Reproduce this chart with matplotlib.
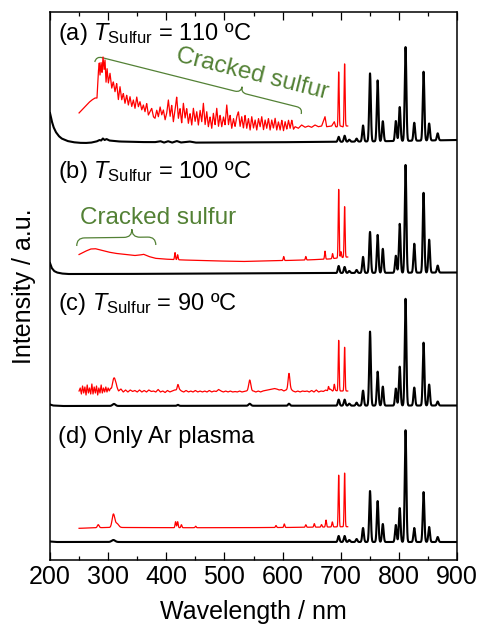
import numpy as np
import matplotlib
matplotlib.use('Agg')
import matplotlib.pyplot as plt
from matplotlib.path import Path
from matplotlib.patches import PathPatch
from matplotlib.ticker import MultipleLocator

plt.rcParams['font.family'] = ['Liberation Sans', 'DejaVu Sans']
plt.rcParams['mathtext.fontset'] = 'custom'
plt.rcParams['mathtext.rm'] = 'Liberation Sans'
plt.rcParams['mathtext.it'] = 'Liberation Sans:italic'

# Ar lines (nm) and their heights above the black baseline of each panel
ar_lines = [696.5, 706.7, 714.7, 727.3, 738.4, 750.4, 763.5, 772.4, 794.8,
            801.5, 811.5, 826.5, 842.5, 852.1, 866.8]
ar_a = [5, 6, 2, 3, 16, 68, 61, 20, 20, 34, 94, 18, 69, 17, 7]
ar_b = [7, 6, 2, 3, 16, 41, 38, 24, 17, 49, 108, 29, 80, 33, 7]
ar_c = [6, 6, 2, 3, 15, 74, 34, 19, 17, 39, 107, 18, 63, 21, 4]
ar_d = [6, 6, 2, 3, 14, 51, 41, 18, 17, 34, 112, 14, 50, 15, 5]

# black baselines (wavelength, level)
base_a = [(200, 30), (203, 22), (206, 16), (210, 11), (215, 7), (220, 4.5),
          (230, 2), (240, 0.8), (250, 0.2), (260, 0), (270, 0.3), (280, 1.5),
          (285, 3), (288, 2.5), (291, 4.5), (294, 3), (297, 4), (302, 2.5),
          (310, 2), (320, 1.5), (350, 1), (380, 0.8), (390, 1.8), (396, 0.4),
          (403, 1.8), (410, 0.4), (418, 2), (425, 0.5), (440, 1.5), (450, 0.4),
          (500, 0.5), (600, 0.8), (700, 1.2), (800, 2), (900, 3)]
base_b = [(200, 11), (203, 6), (207, 3), (212, 1.5), (220, 0.5), (230, 0),
          (300, 0), (500, 0.5), (700, 1), (900, 1.5)]
base_c = [(200, 1.5), (205, 0.5), (220, 0), (900, 0.5)]
base_d = [(200, 0.5), (210, 0), (900, 0)]
# small bumps on black curves (wavelength, height, width)
bumps_c = [(310, 2, 2.5), (420, 1, 1.5), (543.5, 2, 2), (611, 2, 1.5)]
bumps_d = [(309, 2, 3)]

# red spectra, levels read above each panel's black baseline
red_a = [(249.9, 30), (258, 35), (265.9, 40), (272, 43), (277.4, 45), (280.8, 45),
         (283.1, 71), (284.8, 80), (286.0, 68), (287.7, 81), (289.5, 70),
         (291.2, 86), (292.9, 73), (294.6, 83), (296.3, 60), (298.1, 75),
         (300.3, 59.7), (303.2, 69.7), (306.1, 54.7), (308.9, 61.3), (311.8, 51.3),
         (314.7, 59.7), (317.5, 43), (320.4, 56.3), (323.3, 43), (326.1, 49.7),
         (329.0, 39.7), (331.9, 48), (334.8, 38), (337.6, 46.3), (340.5, 36.3),
         (343.4, 43), (346.2, 34.7), (349.1, 46.3), (352.0, 36.3), (354.8, 41.3),
         (357.7, 33), (360.6, 38), (363.4, 31.3), (366.3, 39.7), (369.2, 28),
         (372.0, 31.3), (374.9, 34.7), (377.8, 26.3), (380.6, 24.7), (383.5, 33),
         (386.4, 26.3), (389.3, 36.3), (392.1, 28), (395.0, 33), (397.9, 23),
         (400.7, 29.7), (403.6, 43), (406.5, 26.3), (409.3, 38), (412.2, 21.3),
         (415.1, 33), (417.9, 46.3), (420.8, 24.7), (423.7, 34.7), (426.5, 19.7),
         (429.4, 39.7), (432.3, 24.7), (435.1, 34.7), (438.0, 19.7), (440.9, 29.7),
         (443.8, 18), (446.6, 34.7), (449.5, 21.3), (452.4, 31.3), (455.2, 18),
         (458.1, 33), (461.0, 21.3), (463.8, 39.7), (466.7, 18), (469.6, 31.3),
         (472.4, 16.3), (475.3, 26.3), (478.2, 14.7), (481.0, 29.7), (483.9, 18),
         (486.8, 34.7), (489.7, 16.3), (492.5, 28), (495.4, 16.3), (498.3, 26.3),
         (501.1, 18), (504.0, 38), (506.9, 18), (509.7, 28), (512.6, 14.7),
         (515.5, 24.7), (518.3, 16.3), (521.2, 26.3), (524.1, 31.3), (526.9, 16.3),
         (529.8, 26.3), (532.7, 14.7), (535.5, 28), (538.4, 14.7), (541.3, 24.7),
         (544.2, 13), (547.0, 26.3), (549.9, 14.7), (552.8, 23), (555.6, 13),
         (558.5, 24.7), (561.4, 16.3), (564.2, 26.3), (567.1, 13), (570.0, 23),
         (572.8, 14.7), (575.7, 24.7), (578.6, 13), (581.4, 23), (584.3, 14.7),
         (587.2, 24.7), (590.0, 13), (592.9, 21.3), (595.8, 13), (598.7, 23),
         (601.5, 12), (604.4, 21.3), (607.3, 13.7), (610.1, 23), (613.0, 14.7),
         (615.9, 23), (618.7, 13.7), (621.6, 16.3), (627.1, 14.7), (632.8, 18),
         (638.6, 15.7), (644.3, 17), (650.0, 15.7), (655.8, 18), (661.5, 16.3),
         (667.2, 17), (673.0, 26.3), (675.8, 16.3), (684.4, 17), (689.0, 21.3),
         (691.3, 16.3), (694, 16), (700, 17), (704, 16), (709, 17), (712, 17)]
red_a_lines = [(696.5, 55, 0.8), (706.7, 63, 0.8)]

red_b = [(250, 19.5), (260, 22.5), (270, 25), (278, 25.3), (290, 23.5), (300, 22),
         (312, 20.7), (330, 19.5), (346, 18.5), (355, 19), (361, 19.7), (370, 17.5),
         (381, 15.7), (395, 15), (410, 14.5), (430, 14), (470, 13.3), (530, 12.5),
         (590, 13.3), (640, 14), (680, 15), (695, 16), (712, 17)]
red_b_lines = [(415, 7, 0.8), (419.5, 5, 0.8), (602, 4, 0.8), (640, 3.5, 0.8),
               (673, 8, 0.8), (686, 5, 0.8), (696.5, 69, 0.8), (700.5, 6, 0.8),
               (706.7, 51, 0.8)]

red_c = [(250, 15), (252, 18), (254, 12), (256, 20), (258, 13), (260, 19), (262, 11),
         (264, 21), (266, 13), (268, 18), (270, 12), (272, 22), (274, 12), (276, 19),
         (278, 13), (280, 20), (282, 11), (284, 18), (286, 13), (288, 21), (290, 13),
         (292, 18), (294, 14), (296, 19), (298, 14), (300, 18), (302, 15), (304, 17),
         (306, 15), (310, 16), (314, 19), (318, 15), (322, 17), (326, 14), (330, 16),
         (334, 14), (338, 16), (342, 14.5), (346, 15.5), (350, 14), (354, 16),
         (358, 14), (362, 15.5), (366, 14), (370, 16), (374, 14.5), (378, 15),
         (382, 14), (386, 16.5), (390, 14), (394, 15), (398, 13.5), (402, 15.5),
         (406, 14), (410, 15), (414, 16), (418, 16), (422, 17), (426, 15), (430, 14),
         (434, 15.5), (438, 14), (442, 15), (446, 14), (450, 15.5), (454, 14),
         (458, 15), (462, 14), (466, 15), (470, 14), (474, 15.5), (478, 14),
         (482, 15), (486, 14.5), (490, 16.5), (494, 15), (498, 14), (502, 15),
         (506, 14), (510, 15), (514, 14), (518, 14.5), (522, 14), (526, 15),
         (530, 14), (534, 14.5), (538, 15), (550, 15), (554, 14), (558, 15),
         (562, 14), (566, 15), (570, 15.5), (574, 16), (578, 16.5), (582, 17),
         (586, 17.5), (590, 17), (594, 16), (598, 16.5), (602, 15), (606, 16),
         (614, 17), (618, 15), (622, 14), (626, 15), (630, 14), (634, 15),
         (638, 14.5), (642, 15), (646, 14), (650, 15.5), (654, 14), (658, 16),
         (662, 14), (666, 15), (670, 14.5), (674, 16), (678, 15), (682, 17),
         (686, 15), (690, 16), (694, 15), (702, 15), (710, 15)]
red_c_lines = [(310, 12, 2.5), (420, 5, 1.2), (543.5, 11, 1.8), (611, 16, 1.5),
               (679, 4, 0.8), (689, 6, 0.8), (696.5, 51, 0.8), (706.7, 44, 0.8)]

red_d = [(251, 13.7), (280, 14.3), (300, 14.5), (350, 14.5), (400, 14.3),
         (500, 14.3), (600, 14.5), (680, 15), (710, 15.3)]
red_d_lines = [(283, 3, 1.5), (309, 13, 2.2), (315, 4, 3), (416, 6, 0.9),
               (419.5, 6, 0.9), (426, 3, 0.9), (450.5, 1.5, 0.9), (588.7, 2, 0.9),
               (603, 3.5, 0.9), (640, 2.5, 0.9), (654.6, 3.5, 0.9), (667, 2.5, 0.9),
               (674.7, 7, 0.9), (685.6, 5, 0.9), (696.5, 52, 0.8), (706.7, 54, 0.8)]

offsets = [417, 286, 154, 18]
labels = [r'(a) $\mathit{T}_{\mathrm{Sulfur}}$ = 110 ºC',
          r'(b) $\mathit{T}_{\mathrm{Sulfur}}$ = 100 ºC',
          r'(c) $\mathit{T}_{\mathrm{Sulfur}}$ = 90 ºC',
          '(d) Only Ar plasma']
label_y = [520, 382, 250, 117]
green = '#538135'


def spectrum(wl, base, peaks):
    bx, by = zip(*base)
    y = np.interp(wl, bx, by)
    for c, h, s in peaks:
        y = y + h * np.exp(-0.5 * ((wl - c) / s) ** 2)
    return y


def brace(ax, p0, p1, h, frac, **kw):
    t = ax.transData
    a = t.transform(p0)
    b = t.transform(p1)
    u = (b - a) / np.hypot(*(b - a))
    n = np.array([-u[1], u[0]])
    m = a + (b - a) * frac
    pts = [a, a + n * h, a + n * h + u * h,
           m - u * h + n * h, m + n * h, m + 2 * n * h,
           m + n * h, m + u * h + n * h,
           b - u * h + n * h, b + n * h, b]
    codes = [Path.MOVETO, Path.CURVE3, Path.CURVE3, Path.LINETO,
             Path.CURVE3, Path.CURVE3, Path.CURVE3, Path.CURVE3,
             Path.LINETO, Path.CURVE3, Path.CURVE3]
    pts = t.inverted().transform(np.array(pts))
    ax.add_patch(PathPatch(Path(pts, codes), fill=False, **kw))


fig = plt.figure(figsize=(4.8, 6.28), dpi=100)
ax = fig.add_axes([50 / 480, 68 / 628, 407 / 480, 548 / 628])
ax.set_xlim(200, 900)
ax.set_ylim(0, 548)

wl = np.arange(200, 900.01, 0.2)
wl_red = np.arange(250, 712.01, 0.2)

black_sets = [(base_a, ar_a, []), (base_b, ar_b, []),
              (base_c, ar_c, bumps_c), (base_d, ar_d, bumps_d)]
red_sets = [(red_a, red_a_lines), (red_b, red_b_lines),
            (red_c, red_c_lines), (red_d, red_d_lines)]

for off, (base, heights, extra), (rbase, rlines) in zip(offsets, black_sets, red_sets):
    peaks = [(c, h, 1.4) for c, h in zip(ar_lines, heights)] + extra
    ax.plot(wl, off + spectrum(wl, base, peaks), color='black', lw=1.5)
    ax.plot(wl_red, off + spectrum(wl_red, rbase, rlines), color='red', lw=0.9)

for txt, y in zip(labels, label_y):
    ax.text(214, y, txt, fontsize=17, va='baseline', ha='left')

# "Cracked sulfur" annotations
ax.text(548, 486, 'Cracked sulfur', color=green, fontsize=17.5, rotation=-14,
        rotation_mode='anchor', ha='center', va='center')
ax.text(252, 336, 'Cracked sulfur', color=green, fontsize=17.5,
        ha='left', va='baseline')
brace(ax, (277, 498), (632, 446), 6, 0.7, color=green, lw=0.9)
brace(ax, (246, 314), (382, 315), 8, 0.7, color=green, lw=0.9)

ax.xaxis.set_major_locator(MultipleLocator(100))
ax.xaxis.set_minor_locator(MultipleLocator(50))
ax.tick_params(which='both', direction='in', top=True, bottom=True,
               left=False, labelleft=False, width=0.9, labelsize=18)
ax.tick_params(which='major', length=6)
ax.tick_params(which='minor', length=3)
for sp in ax.spines.values():
    sp.set_linewidth(1.1)

ax.set_xlabel('Wavelength / nm', fontsize=18, labelpad=8)
ax.set_ylabel('Intensity / a.u.', fontsize=18, labelpad=10)

fig.savefig('out.png', dpi=100)
